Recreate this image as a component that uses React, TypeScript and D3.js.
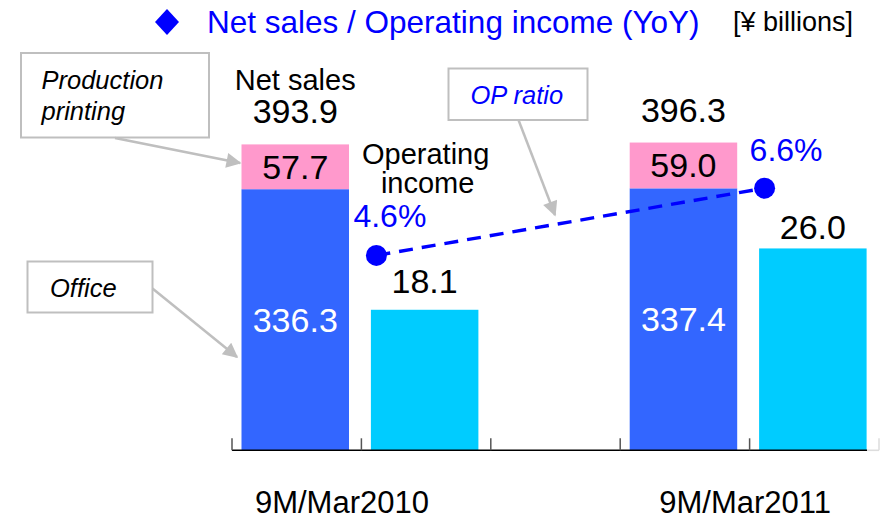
import React from 'react';
import * as d3 from 'd3';

// ---- data ----
const periods = ['9M/Mar2010', '9M/Mar2011'];
const officeSales = [336.3, 337.4];
const productionPrinting = [57.7, 59.0];
const netSalesTotal = [393.9, 396.3];
const operatingIncome = [18.1, 26.0];
const opRatio = [4.6, 6.6];
const slots = ['ns0', 'oi0', 'gap', 'ns1', 'oi1'];

const W = 881;
const H = 519;
const FONT = '"Liberation Sans", Arial, sans-serif';
const BLUE_TEXT = '#0000FF';
const C_OFFICE = '#3366FF';
const C_PP = '#FF99CC';
const C_OI = '#00CCFF';
const C_GREY = '#BFBFBF';

const x = d3.scaleBand<string>().domain(slots).range([232, 879]).padding(0);
const barPad = 9.5;
const barW = 107.5;
const baseY = 450.3;
const yNS = d3.scaleLinear().domain([0, 580]).range([baseY, 0]);
const yOI = d3.scaleLinear().domain([0, 58]).range([baseY, 0]);
const yR = d3.scaleLinear().domain([-1.2, 12.2]).range([baseY, 0]);

const oiLabelGap = [17, 9];
const ratioLabelDx = [-23, -15];
const ratioLabelDy = [-28, -27];
const catLabelDx = [-18, -3];

export default function App() {
  const fmt = d3.format('.1f');
  const ticks = slots.map((s) => x(s)!).concat([x.range()[1]]);
  const pts = opRatio.map((r, i) => ({
    cx: x(slots[i * 3 + 1])! + 15,
    cy: yR(r),
  }));
  const line = d3
    .line<{ cx: number; cy: number }>()
    .x((d) => d.cx)
    .y((d) => d.cy);

  return (
    <svg
      width={W}
      height={H}
      style={{ position: 'absolute', left: 0, top: 0, display: 'block', background: '#fff' }}
      fontFamily={FONT}
    >
      <defs>
        <marker
          id="ah"
          viewBox="0 0 10 10"
          refX="9"
          refY="5"
          markerWidth="17"
          markerHeight="15"
          markerUnits="userSpaceOnUse"
          orient="auto"
        >
          <path d="M0,0 L10,5 L0,10 Z" fill={C_GREY} />
        </marker>
      </defs>

      {/* title */}
      <path d="M167,9 L179,22 L167,35 L155,22 Z" fill={BLUE_TEXT} />
      <text x={207} y={33} fontSize={31.5} fill={BLUE_TEXT}>
        Net sales / Operating income (YoY)
      </text>
      <text x={733} y={31} fontSize={27} fill="#000">
        [¥ billions]
      </text>

      {/* bars */}
      {periods.map((p, i) => {
        const nsX = x(slots[i * 3])! + barPad;
        const oiX = x(slots[i * 3 + 1])! + barPad;
        const yOff = yNS(officeSales[i]);
        const yTop = yNS(officeSales[i] + productionPrinting[i]);
        return (
          <g key={p}>
            <rect x={nsX} y={yOff} width={barW} height={baseY - yOff} fill={C_OFFICE} />
            <rect x={nsX} y={yTop} width={barW} height={yOff - yTop} fill={C_PP} />
            <rect
              x={oiX}
              y={yOI(operatingIncome[i])}
              width={barW}
              height={baseY - yOI(operatingIncome[i])}
              fill={C_OI}
            />
            <text
              x={nsX + barW / 2}
              y={(yOff + baseY) / 2 + 12}
              fontSize={34}
              fill="#fff"
              textAnchor="middle"
            >
              {fmt(officeSales[i])}
            </text>
            <text
              x={nsX + barW / 2}
              y={(yOff + yTop) / 2 + 12}
              fontSize={34}
              fill="#000"
              textAnchor="middle"
            >
              {fmt(productionPrinting[i])}
            </text>
            <text
              x={nsX + barW / 2}
              y={yNS(netSalesTotal[i]) - 21}
              fontSize={34}
              fill="#000"
              textAnchor="middle"
            >
              {fmt(netSalesTotal[i])}
            </text>
            <text
              x={oiX + barW / 2}
              y={yOI(operatingIncome[i]) - oiLabelGap[i]}
              fontSize={34}
              fill="#000"
              textAnchor="middle"
            >
              {fmt(operatingIncome[i])}
            </text>
            <text
              x={(nsX + oiX + barW) / 2 + catLabelDx[i]}
              y={513}
              fontSize={31}
              fill="#000"
              textAnchor="middle"
            >
              {p}
            </text>
          </g>
        );
      })}

      {/* series captions */}
      <text x={x('ns0')! + barPad + barW / 2} y={90} fontSize={29} textAnchor="middle">
        Net sales
      </text>
      <text x={x('oi0')! + barPad + barW / 2 + 1} y={164} fontSize={29} textAnchor="middle">
        Operating
      </text>
      <text x={x('oi0')! + barPad + barW / 2 + 3} y={193} fontSize={29} textAnchor="middle">
        income
      </text>

      {/* axis */}
      <line x1={232} x2={867} y1={baseY} y2={baseY} stroke="#000" strokeWidth={1.6} />
      <line x1={867} x2={879} y1={baseY} y2={baseY} stroke="#DDD" strokeWidth={1.6} />
      {ticks.map((t, i) => (
        <line
          key={i}
          x1={t}
          x2={t}
          y1={baseY - 12}
          y2={baseY}
          stroke={i === ticks.length - 1 ? '#DDD' : '#555'}
          strokeWidth={1.5}
        />
      ))}

      {/* OP ratio */}
      <path
        d={line(pts) || ''}
        fill="none"
        stroke={BLUE_TEXT}
        strokeWidth={3.4}
        strokeDasharray="14 9"
      />
      {pts.map((p, i) => (
        <g key={i}>
          <circle cx={p.cx} cy={p.cy} r={10.5} fill={BLUE_TEXT} />
          <text x={p.cx + ratioLabelDx[i]} y={p.cy + ratioLabelDy[i]} fontSize={32} fill={BLUE_TEXT}>
            {fmt(opRatio[i])}%
          </text>
        </g>
      ))}

      {/* callouts */}
      <rect x={21} y={53} width={188} height={84.5} fill="#fff" stroke={C_GREY} strokeWidth={2} />
      <text x={41.5} y={89} fontSize={25.5} fontStyle="italic">Production</text>
      <text x={41.5} y={120} fontSize={25.5} fontStyle="italic">printing</text>
      <line x1={115} y1={138} x2={240} y2={163} stroke={C_GREY} strokeWidth={2.5} markerEnd="url(#ah)" />

      <rect x={27.5} y={261.5} width={125} height={51} fill="#fff" stroke={C_GREY} strokeWidth={2} />
      <text x={50} y={296.5} fontSize={25.5} fontStyle="italic">Office</text>
      <line x1={152.5} y1={288.5} x2={237} y2={357} stroke={C_GREY} strokeWidth={2.5} markerEnd="url(#ah)" />

      <rect x={448.5} y={68.5} width={139} height={51.5} fill="#fff" stroke={C_GREY} strokeWidth={2} />
      <text x={470.5} y={103.5} fontSize={25.5} fontStyle="italic" fill={BLUE_TEXT}>OP ratio</text>
      <line x1={518.5} y1={120} x2={555} y2={215} stroke={C_GREY} strokeWidth={2.5} markerEnd="url(#ah)" />
    </svg>
  );
}
